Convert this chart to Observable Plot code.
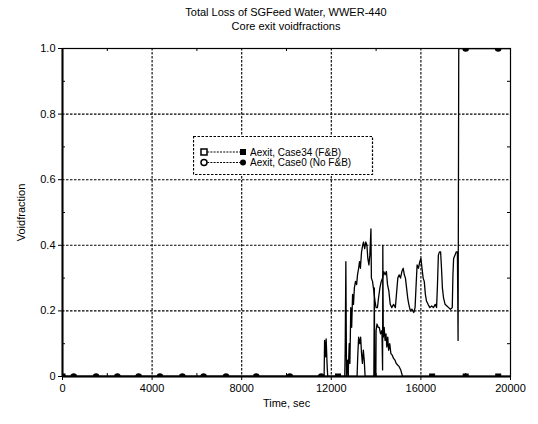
<!DOCTYPE html>
<html>
<head>
<meta charset="utf-8">
<script src="https://cdn.jsdelivr.net/npm/d3@7"></script>
<script src="https://cdn.jsdelivr.net/npm/@observablehq/plot@0.6"></script>
<style>
  html, body { margin: 0; padding: 0; background: #fff; }
  body { font-family: "Liberation Sans", Arial, sans-serif; }
  #wrap { position: relative; width: 538px; height: 424px; }
  #title { position: absolute; left: 62px; width: 448px; top: 5px; text-align: center; font-size: 11px; line-height: 14px; color: #000; }
  #legend { position: absolute; left: 193px; top: 136px; }
</style>
</head>
<body>
<div id="wrap">
  <div id="chart"></div>
  <div id="title">Total Loss of SGFeed Water, WWER-440<br>Core exit voidfractions</div>
  <div id="legend"></div>
</div>
<script>
// ---- data ----
const case0Time = [0,12750,12800,12830,12870,12910,12950,12990,13030,13080,13130,13170,13220,13260,13300,13350,13400,13440,13490,13540,13590,13630,13680,13720,13770,13790,13840,13900,13950,14000,14060,14110,14170,14230,14290,14340,14400,14460,14510,14570,14630,14700,14780,14860,14920,14970,15030,15090,15150,15210,15260,15310,15360,15410,15460,15530,15600,15680,15740,15780,15830,15890,15950,16000,16050,16100,16150,16200,16250,16320,16400,16480,16560,16640,16700,16740,16780,16830,16880,16920,16960,17010,17080,17160,17240,17320,17400,17430,17460,17520,17580,17630,17660,17690,20000];
const case0Void = [0,0,0.10,0.04,0.21,0.15,0.25,0.22,0.27,0.29,0.28,0.31,0.33,0.35,0.33,0.38,0.40,0.41,0.39,0.41,0.40,0.36,0.34,0.37,0.45,0.30,0.29,0.26,0.23,0.21,0.21,0.24,0.27,0.29,0.30,0.32,0.31,0.32,0.28,0.26,0.22,0.21,0.22,0.21,0.26,0.30,0.31,0.30,0.32,0.33,0.31,0.30,0.27,0.24,0.22,0.20,0.205,0.195,0.21,0.27,0.34,0.33,0.35,0.36,0.33,0.30,0.29,0.25,0.23,0.22,0.21,0.215,0.21,0.22,0.21,0.28,0.37,0.38,0.38,0.33,0.27,0.24,0.22,0.215,0.21,0.205,0.21,0.31,0.36,0.37,0.38,0.38,0.11,1.0,1.0];

const case34Time = [0,11680,11700,11740,11770,11810,11840,12600,12620,12650,12680,12720,12760,13150,13180,13220,13270,13310,13350,13390,13430,13470,13510,13900,13920,13940,13990,14000,14040,14090,14140,14200,14260,14290,14300,14320,14360,14400,14440,14480,14520,14560,14610,14660,14720,14780,14840,14900,14960,15030,15100,15180,20000];
const case34Void = [0,0,0.11,0.06,0.115,0.04,0,0,0.08,0.35,0,0.05,0,0,0.06,0.12,0.10,0.12,0.07,0.04,0.08,0.05,0,0,0.27,0,0,0.14,0.16,0.15,0.15,0.13,0.14,0.02,0.40,0.12,0.15,0.11,0.13,0.09,0.12,0.08,0.10,0.07,0.065,0.055,0.05,0.04,0.035,0.03,0.02,0,0];

const case0MarkTime = [500,1500,2450,3400,4350,5350,6300,7300,8650,10150,11550,18000,19450];
const case0MarkVoid = [0,0,0,0,0,0,0,0,0,0,0,1,1];
const case34MarkTime = [0,12300,16500,18000,19450];
const case34MarkVoid = [0,0,0,0,0];

const xTicks = [0,4000,8000,12000,16000,20000];
const xGrid = [4000,8000,12000,16000];
const xMinor = [2000,6000,10000,14000,18000];
const yTicks = [0,0.2,0.4,0.6,0.8,1.0];
const yGrid = [0.2,0.4,0.6,0.8];
const yMinor = [0.1,0.3,0.5,0.7,0.9];

const seriesNames = ["Aexit, Case34 (F&B)", "Aexit, Case0 (No F&B)"];

// ---- build tables ----
const line0 = case0Time.map((t, i) => ({t, v: case0Void[i]}));
const line34 = case34Time.map((t, i) => ({t, v: case34Void[i]}));
const mark0 = case0MarkTime.map((t, i) => ({t, v: case0MarkVoid[i]}));
const mark34 = case34MarkTime.map((t, i) => ({t, v: case34MarkVoid[i]}));

const W = 538, H = 424, mL = 62, mR = 28, mT = 48, mB = 48;
const innerW = W - mL - mR, innerH = H - mT - mB;

const chart = Plot.plot({
  width: W, height: H,
  marginLeft: mL, marginRight: mR, marginTop: mT, marginBottom: mB,
  style: {fontFamily: "'Liberation Sans', Arial, sans-serif", fontSize: "11px", color: "#000", background: "#fff"},
  x: {domain: [0, 20000], ticks: xTicks, tickFormat: d3.format("d"), tickSize: 4, tickPadding: 4,
      label: "Time, sec", labelAnchor: "center", labelOffset: 30, labelArrow: "none"},
  y: {domain: [0, 1], ticks: yTicks, tickFormat: d => d === 0 ? "0" : d.toFixed(1), tickSize: 4, tickPadding: 3,
      label: "Voidfraction", labelAnchor: "center", labelOffset: 45, labelArrow: "none"},
  marks: [
    Plot.ruleX(xGrid, {stroke: "#000", strokeWidth: 1.1, strokeDasharray: "2.5,1.5"}),
    Plot.ruleY(yGrid, {stroke: "#000", strokeWidth: 1.1, strokeDasharray: "2.5,1.5"}),
    Plot.tickY(yMinor, {y: d => d, insetRight: innerW - 3, stroke: "#000"}),
    Plot.tickY(yMinor, {y: d => d, insetLeft: innerW - 3, stroke: "#000"}),
    Plot.tickX(xMinor, {x: d => d, insetTop: innerH - 3, stroke: "#000"}),
    Plot.tickX(xMinor, {x: d => d, insetBottom: innerH - 3, stroke: "#000"}),
    Plot.line(line34, {x: "t", y: "v", stroke: "#000", strokeWidth: 1.3, clip: true}),
    Plot.line(line0, {x: "t", y: "v", stroke: "#000", strokeWidth: 1.3, clip: true}),
    Plot.dot(mark34, {x: "t", y: "v", symbol: "square", r: 3.4, fill: "#000", stroke: "none", clip: true}),
    Plot.dot(mark0, {x: "t", y: "v", r: 3.3, fill: "#000", stroke: "none", clip: true}),
    Plot.frame({stroke: "#000", strokeWidth: 1.2}),
    Plot.ruleX([0], {stroke: "#000", strokeWidth: 2}),
    Plot.ruleY([0], {stroke: "#000", strokeWidth: 2})
  ]
});
document.getElementById("chart").appendChild(chart);

// ---- legend ----
const lg = d3.select("#legend").append("svg")
  .attr("width", 181).attr("height", 40)
  .style("font-family", "'Liberation Sans', Arial, sans-serif").style("font-size", "10px");
lg.append("rect").attr("x", 0.5).attr("y", 0.5).attr("width", 179).attr("height", 38)
  .attr("fill", "#fff").attr("stroke", "#000").attr("stroke-width", 1.2).attr("stroke-dasharray", "2.5,1.5");
seriesNames.forEach((name, i) => {
  const yy = 16 + i * 10.5;
  const g = lg.append("g");
  g.append("line").attr("x1", 11).attr("x2", 50).attr("y1", yy).attr("y2", yy)
    .attr("stroke", "#000").attr("stroke-width", 1.2).attr("stroke-dasharray", "2,1.2");
  if (i === 0) {
    g.append("rect").attr("x", 8).attr("y", yy - 3).attr("width", 6).attr("height", 6).attr("fill", "#fff").attr("stroke", "#000").attr("stroke-width", 1.5);
    g.append("rect").attr("x", 47).attr("y", yy - 3).attr("width", 6).attr("height", 6).attr("fill", "#000");
  } else {
    g.append("circle").attr("cx", 11).attr("cy", yy).attr("r", 3).attr("fill", "#fff").attr("stroke", "#000").attr("stroke-width", 1.5);
    g.append("circle").attr("cx", 50).attr("cy", yy).attr("r", 3).attr("fill", "#000");
  }
  g.append("text").attr("x", 57).attr("y", yy + 3.5).text(name);
});
</script>
</body>
</html>
